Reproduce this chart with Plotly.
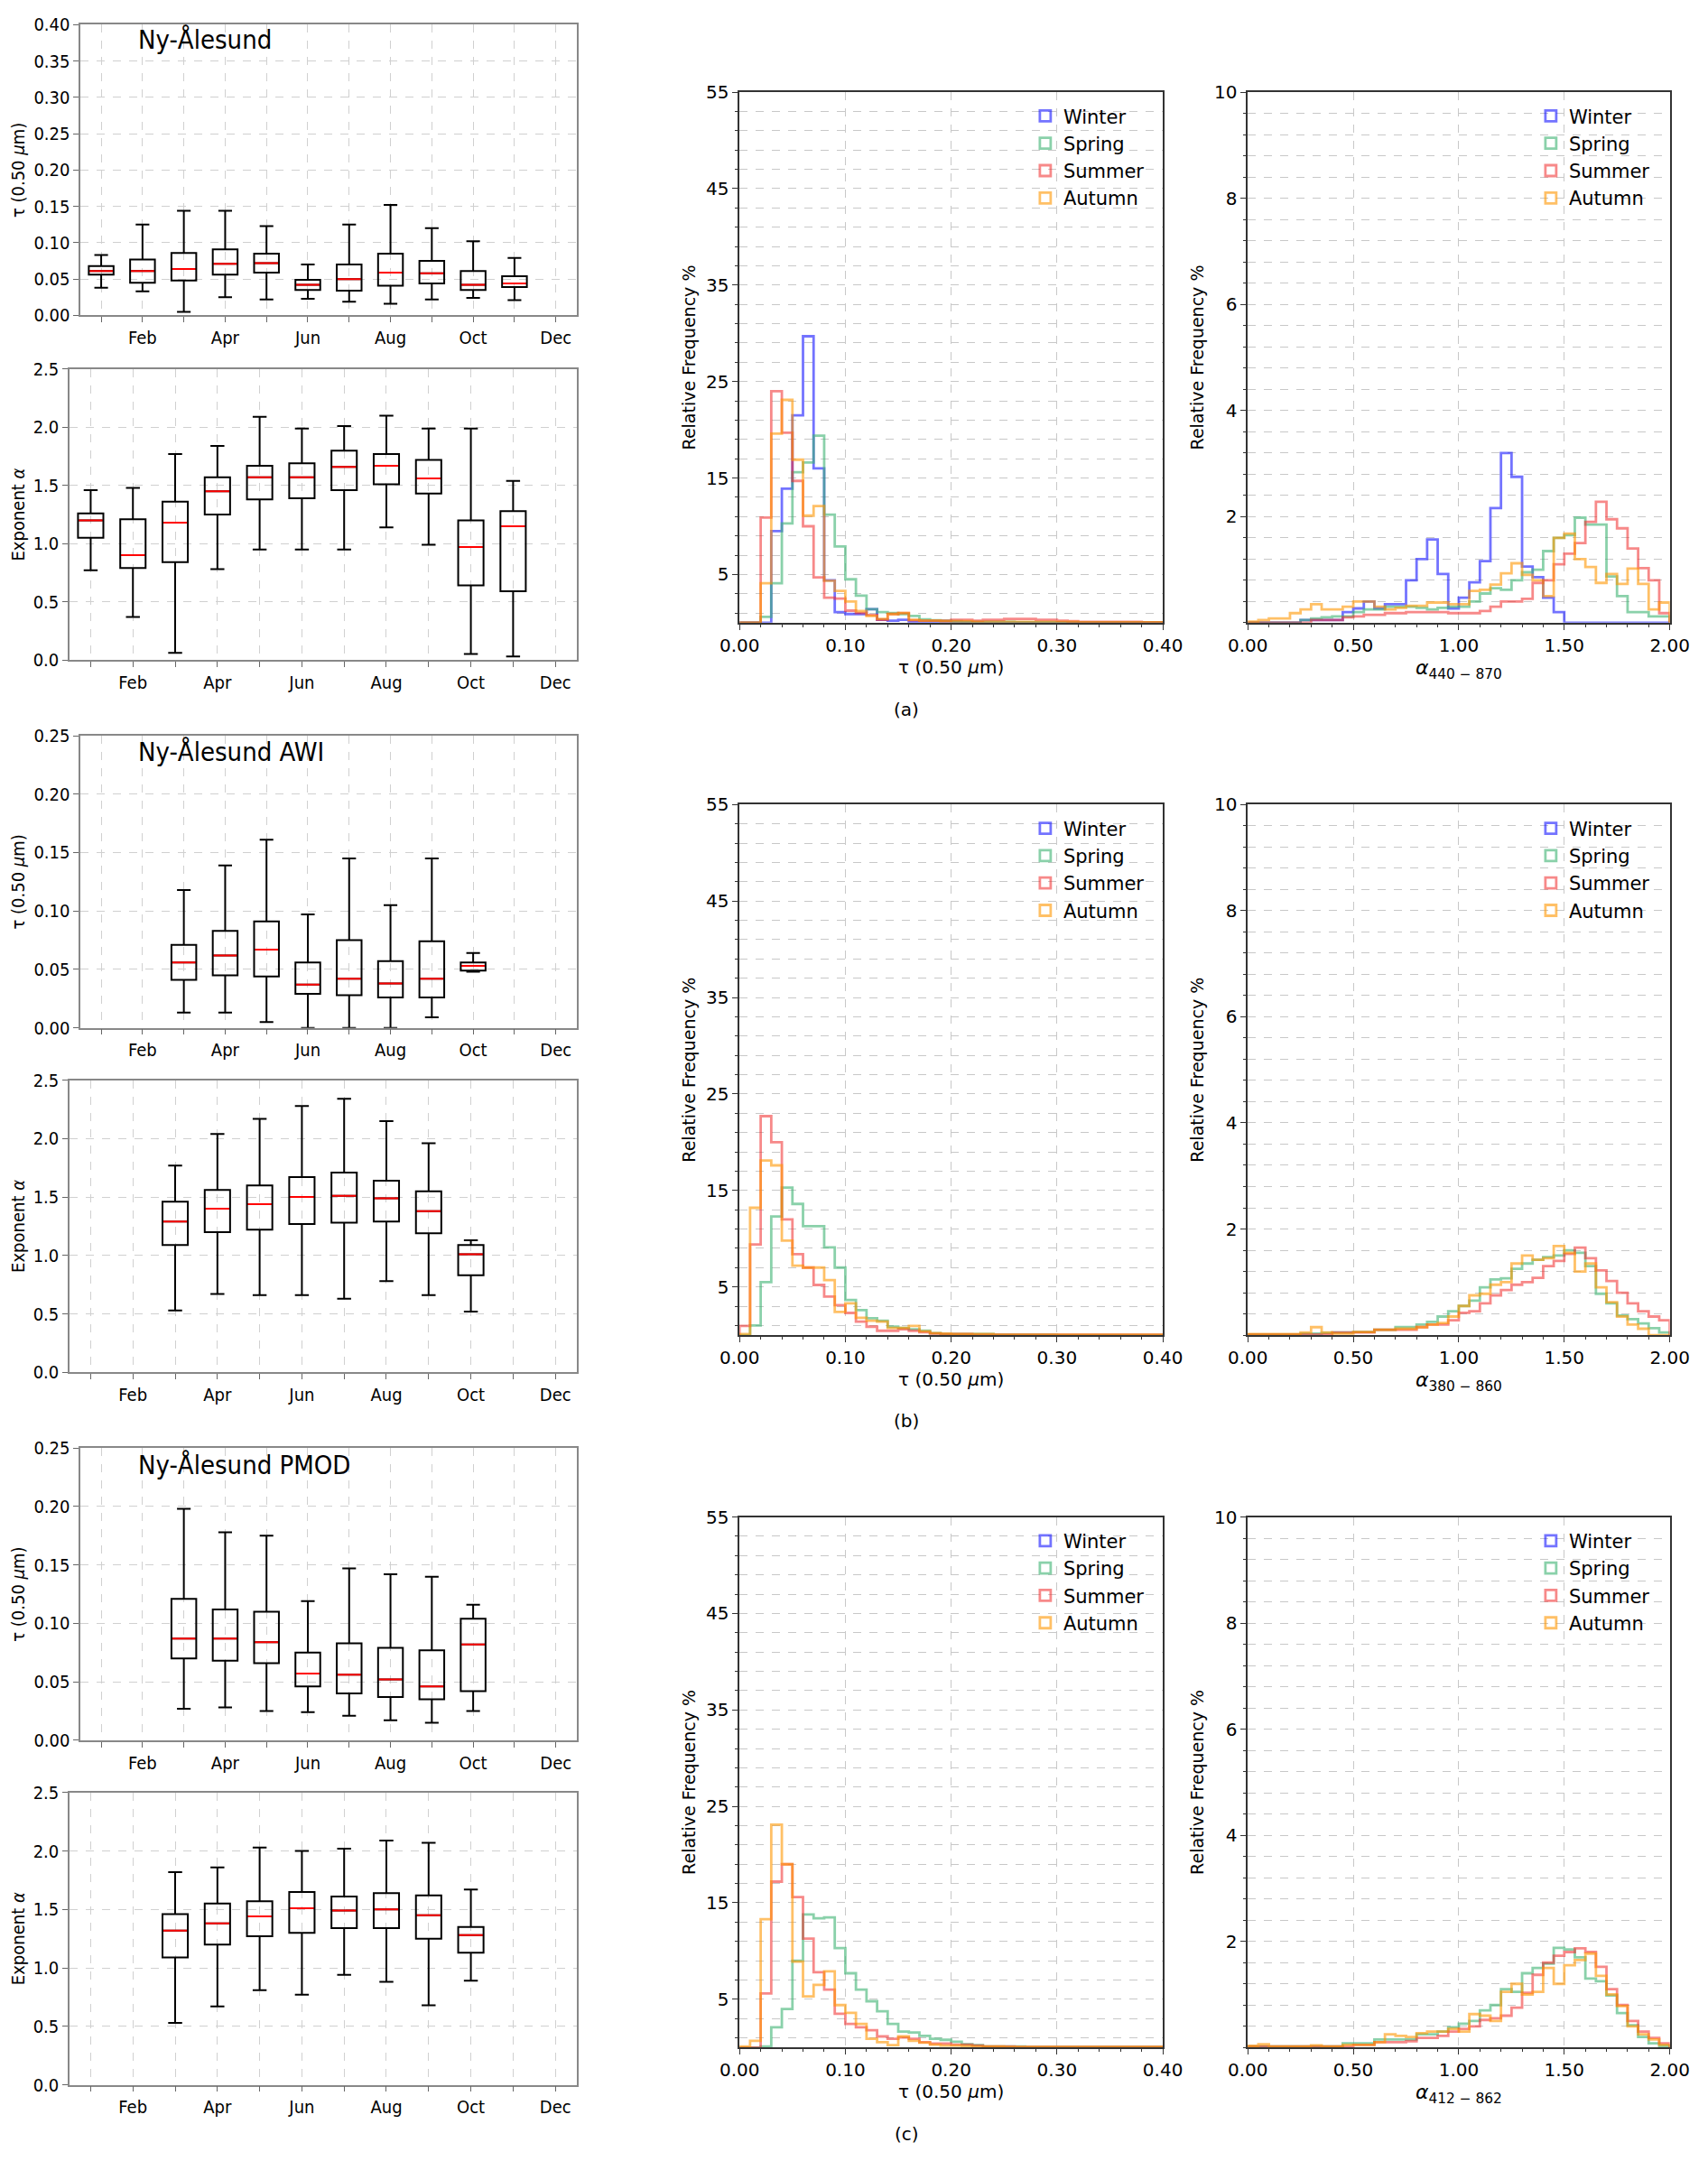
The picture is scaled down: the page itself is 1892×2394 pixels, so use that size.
import numpy as np
import plotly.graph_objects as go

MONTHS = ["Jan", "Feb", "Mar", "Apr", "May", "Jun", "Jul", "Aug", "Sep", "Oct", "Nov", "Dec"]
SEASONS = ["Winter", "Spring", "Summer", "Autumn"]

# ---- monthly box plot statistics ----
# Ny-Alesund, Jan..Nov
nya_months = [1, 2, 3, 4, 5, 6, 7, 8, 9, 10, 11]
nya_tau_q1 = [0.056, 0.045, 0.048, 0.056, 0.059, 0.035, 0.034, 0.041, 0.044, 0.035, 0.039]
nya_tau_med = [0.061, 0.061, 0.064, 0.071, 0.072, 0.042, 0.050, 0.059, 0.058, 0.042, 0.044]
nya_tau_q3 = [0.068, 0.077, 0.086, 0.091, 0.085, 0.049, 0.070, 0.085, 0.075, 0.061, 0.054]
nya_tau_lo = [0.038, 0.033, 0.005, 0.025, 0.022, 0.023, 0.019, 0.016, 0.022, 0.024, 0.021]
nya_tau_hi = [0.083, 0.125, 0.144, 0.144, 0.123, 0.070, 0.125, 0.152, 0.120, 0.102, 0.079]

nya_alp_q1 = [1.05, 0.79, 0.84, 1.25, 1.38, 1.39, 1.46, 1.51, 1.43, 0.64, 0.59]
nya_alp_med = [1.20, 0.90, 1.18, 1.45, 1.57, 1.57, 1.66, 1.67, 1.56, 0.97, 1.15]
nya_alp_q3 = [1.26, 1.21, 1.36, 1.57, 1.67, 1.69, 1.80, 1.77, 1.72, 1.20, 1.28]
nya_alp_lo = [0.77, 0.37, 0.06, 0.78, 0.95, 0.95, 0.95, 1.14, 0.99, 0.05, 0.03]
nya_alp_hi = [1.46, 1.48, 1.77, 1.84, 2.09, 1.99, 2.01, 2.10, 1.99, 1.99, 1.54]

# AWI, Mar..Oct
awi_months = [3, 4, 5, 6, 7, 8, 9, 10]
awi_tau_q1 = [0.041, 0.045, 0.044, 0.029, 0.028, 0.026, 0.026, 0.049]
awi_tau_med = [0.056, 0.062, 0.067, 0.037, 0.042, 0.038, 0.042, 0.053]
awi_tau_q3 = [0.071, 0.083, 0.091, 0.056, 0.075, 0.057, 0.074, 0.056]
awi_tau_lo = [0.013, 0.013, 0.005, 0.000, 0.000, 0.000, 0.009, 0.048]
awi_tau_hi = [0.118, 0.139, 0.161, 0.097, 0.145, 0.105, 0.145, 0.064]

awi_alp_q1 = [1.09, 1.20, 1.22, 1.27, 1.28, 1.29, 1.19, 0.83]
awi_alp_med = [1.29, 1.40, 1.44, 1.50, 1.51, 1.49, 1.38, 1.01]
awi_alp_q3 = [1.46, 1.56, 1.60, 1.67, 1.71, 1.64, 1.55, 1.09]
awi_alp_lo = [0.53, 0.67, 0.66, 0.66, 0.63, 0.78, 0.66, 0.52]
awi_alp_hi = [1.77, 2.04, 2.17, 2.28, 2.34, 2.15, 1.96, 1.13]

# PMOD, Mar..Oct
pmod_months = [3, 4, 5, 6, 7, 8, 9, 10]
pmod_tau_q1 = [0.070, 0.068, 0.066, 0.046, 0.040, 0.037, 0.035, 0.042]
pmod_tau_med = [0.087, 0.087, 0.084, 0.057, 0.056, 0.052, 0.046, 0.082]
pmod_tau_q3 = [0.121, 0.112, 0.110, 0.075, 0.083, 0.079, 0.077, 0.104]
pmod_tau_lo = [0.027, 0.028, 0.025, 0.024, 0.021, 0.017, 0.015, 0.025]
pmod_tau_hi = [0.198, 0.178, 0.175, 0.119, 0.147, 0.142, 0.140, 0.116]

pmod_alp_q1 = [1.09, 1.20, 1.27, 1.30, 1.34, 1.34, 1.25, 1.13]
pmod_alp_med = [1.32, 1.38, 1.44, 1.51, 1.49, 1.50, 1.45, 1.28]
pmod_alp_q3 = [1.46, 1.55, 1.57, 1.65, 1.61, 1.64, 1.62, 1.35]
pmod_alp_lo = [0.53, 0.67, 0.81, 0.77, 0.94, 0.88, 0.68, 0.89]
pmod_alp_hi = [1.82, 1.86, 2.03, 2.00, 2.02, 2.09, 2.07, 1.67]

# ---- seasonal histograms, relative frequency % ----
tau_bins = np.linspace(0.0, 0.40, 41)    # 40 bins of 0.01
alpha_bins = np.linspace(0.0, 2.0, 41)   # 40 bins of 0.05

win_tau_a = [0, 0, 0, 9.5, 13.9, 21.5, 29.7, 16.0, 4.4, 1.1, 0.9, 0.9, 1.4, 0.3, 0.2, 0.3, 0.1, 0.1, 0.1, 0.1,
             0.05, 0.05, 0, 0, 0, 0, 0, 0, 0, 0, 0, 0, 0, 0, 0, 0, 0, 0, 0, 0]
spr_tau_a = [0, 0, 0.6, 4.1, 10.3, 15.6, 16.6, 19.4, 11.2, 7.9, 4.5, 2.8, 1.4, 1.1, 1.0, 0.9, 0.7, 0.35, 0.25, 0.2,
             0.15, 0.1, 0.1, 0.1, 0.1, 0.1, 0.05, 0.05, 0.05, 0.05, 0.05, 0.05, 0.05, 0.05, 0.05, 0.05, 0.05, 0.05, 0.05, 0.05]
sum_tau_a = [0, 0, 10.9, 24.0, 19.7, 14.7, 10.0, 4.7, 2.6, 2.5, 1.25, 1.0, 0.8, 0.3, 0.9, 1.0, 0.25, 0.2, 0.2, 0.2,
             0.3, 0.3, 0.2, 0.3, 0.3, 0.4, 0.4, 0.4, 0.3, 0.3, 0.2, 0.15, 0.1, 0.1, 0.1, 0.1, 0.1, 0.1, 0.05, 0.05]
aut_tau_a = [0, 0, 4.1, 19.6, 23.1, 16.9, 11.1, 12.1, 4.35, 3.3, 2.2, 1.2, 0.7, 0.4, 0.9, 1.0, 0.3, 0.2, 0.2, 0.15,
             0.15, 0.15, 0.1, 0.1, 0.1, 0.1, 0.1, 0.1, 0.1, 0.1, 0.1, 0.1, 0.05, 0.05, 0.05, 0.05, 0.05, 0.05, 0.05, 0.05]

win_alp_a = [0, 0, 0, 0, 0, 0.05, 0.05, 0.05, 0.05, 0.2, 0.27, 0.4, 0.27, 0.35, 0.35, 0.8, 1.2, 1.57, 0.92, 0.27,
             0.47, 0.76, 1.16, 2.16, 3.2, 2.75, 1.06, 0.86, 0.47, 0.2, 0, 0, 0, 0, 0, 0, 0, 0, 0, 0]
spr_alp_a = [0, 0, 0, 0, 0, 0.05, 0.08, 0.1, 0.12, 0.12, 0.2, 0.25, 0.25, 0.3, 0.3, 0.3, 0.28, 0.25, 0.28, 0.3,
             0.3, 0.4, 0.55, 0.65, 0.62, 0.8, 0.95, 1.0, 1.35, 1.6, 1.65, 1.98, 1.85, 1.85, 0.87, 0.5, 0.2, 0.2, 0.12, 0.12]
sum_alp_a = [0, 0, 0, 0, 0, 0, 0.05, 0.05, 0.05, 0.1, 0.12, 0.15, 0.15, 0.18, 0.18, 0.2, 0.2, 0.2, 0.2, 0.18,
             0.18, 0.18, 0.22, 0.3, 0.4, 0.4, 0.45, 0.75, 0.8, 1.1, 1.3, 1.5, 1.9, 2.28, 1.95, 1.78, 1.4, 1.03, 0.8, 0.18]
aut_alp_a = [0.02, 0.05, 0.08, 0.08, 0.18, 0.25, 0.35, 0.25, 0.25, 0.3, 0.4, 0.4, 0.3, 0.25, 0.28, 0.32, 0.32, 0.38, 0.38, 0.35,
             0.35, 0.6, 0.62, 0.72, 0.93, 1.12, 0.9, 0.8, 0.5, 1.6, 1.68, 1.2, 1.05, 0.75, 0.92, 0.73, 1.02, 0.73, 0.25, 0.38]

spr_tau_b = [0, 1.0, 5.5, 12.3, 15.3, 13.6, 11.3, 11.3, 9.1, 7.0, 3.65, 2.6, 1.75, 1.5, 0.87, 0.75, 0.6, 0.45, 0.2, 0.1,
             0.1, 0.1, 0.1, 0.1, 0.05, 0.05, 0.05, 0.05, 0.05, 0.05, 0, 0, 0, 0, 0, 0, 0, 0, 0, 0]
sum_tau_b = [0.95, 9.4, 22.7, 20.0, 12.0, 8.4, 7.0, 5.2, 4.0, 3.1, 2.3, 1.4, 0.87, 0.45, 0.45, 0.6, 0.45, 0.3, 0.15, 0.1,
             0.1, 0.1, 0.05, 0.05, 0.05, 0.05, 0.05, 0.05, 0.05, 0.05, 0.05, 0.05, 0.05, 0.05, 0.05, 0.05, 0.05, 0.05, 0.05, 0.05]
aut_tau_b = [0.1, 13.2, 18.1, 17.6, 9.8, 7.2, 7.0, 7.0, 5.7, 2.4, 3.3, 1.8, 1.5, 1.4, 0.75, 0.75, 0.95, 0.4, 0.2, 0.15,
             0.1, 0.1, 0.1, 0.1, 0.05, 0.05, 0.05, 0.05, 0.05, 0.05, 0.05, 0.05, 0.05, 0.05, 0.05, 0.05, 0.05, 0.05, 0.05, 0.05]

spr_alp_b = [0.01, 0.01, 0.01, 0.01, 0.01, 0.03, 0.03, 0.04, 0.05, 0.05, 0.06, 0.06, 0.1, 0.1, 0.15, 0.15, 0.2, 0.25, 0.35, 0.45,
             0.55, 0.65, 0.9, 1.05, 1.07, 1.25, 1.35, 1.42, 1.47, 1.5, 1.6, 1.55, 1.3, 0.78, 0.6, 0.37, 0.3, 0.22, 0.13, 0.05]
sum_alp_b = [0.01, 0.01, 0.01, 0.01, 0.01, 0.01, 0.01, 0.01, 0.05, 0.05, 0.05, 0.05, 0.1, 0.1, 0.1, 0.1, 0.15, 0.2, 0.2, 0.28,
             0.42, 0.45, 0.6, 0.75, 0.85, 0.95, 1.0, 1.08, 1.3, 1.4, 1.53, 1.65, 1.45, 1.22, 1.02, 0.8, 0.6, 0.45, 0.35, 0.28]
aut_alp_b = [0.02, 0.02, 0.02, 0.02, 0.02, 0.05, 0.15, 0.05, 0.03, 0.03, 0.06, 0.06, 0.1, 0.1, 0.12, 0.12, 0.15, 0.2, 0.23, 0.35,
             0.55, 0.75, 0.78, 0.95, 1.0, 1.35, 1.5, 1.42, 1.45, 1.68, 1.55, 1.2, 1.35, 0.9, 0.62, 0.35, 0.2, 0.12, 0, 0]

spr_tau_c = [0, 0, 0.1, 2.1, 4.0, 9.0, 13.8, 13.4, 13.5, 10.3, 7.7, 6.0, 4.8, 3.75, 2.45, 1.65, 1.55, 1.2, 0.9, 0.8,
             0.6, 0.35, 0.25, 0.1, 0.1, 0.1, 0.1, 0.05, 0.05, 0.05, 0.05, 0.05, 0.05, 0.05, 0.05, 0.05, 0.05, 0.05, 0.05, 0.05]
sum_tau_c = [0, 0, 5.6, 17.2, 19.0, 15.6, 11.3, 7.8, 6.0, 3.5, 2.45, 2.1, 1.8, 1.15, 0.9, 1.05, 0.9, 0.55, 0.4, 0.4,
             0.3, 0.3, 0.2, 0.1, 0.1, 0.1, 0.05, 0.05, 0.05, 0.05, 0.05, 0.05, 0.05, 0.05, 0.05, 0.05, 0.05, 0.05, 0.05, 0.05]
aut_tau_c = [0.1, 0.7, 13.3, 23.1, 19.0, 8.9, 5.3, 6.5, 7.9, 4.4, 3.6, 2.45, 0.9, 0.55, 0.25, 1.15, 0.7, 0.5, 0.3, 0.2,
             0.2, 0.15, 0.1, 0.1, 0.1, 0.05, 0.05, 0.05, 0.05, 0.05, 0.05, 0.05, 0.05, 0.05, 0.05, 0.05, 0.05, 0.05, 0.05, 0.05]

spr_alp_c = [0.02, 0.02, 0.02, 0.02, 0.02, 0.02, 0.02, 0.02, 0.02, 0.08, 0.08, 0.08, 0.15, 0.15, 0.15, 0.15, 0.25, 0.25, 0.3, 0.38,
             0.45, 0.5, 0.7, 0.8, 1.1, 1.05, 1.4, 1.5, 1.58, 1.88, 1.85, 1.7, 1.3, 1.25, 0.98, 0.65, 0.42, 0.2, 0.08, 0.03]
sum_alp_c = [0.02, 0.02, 0.02, 0.02, 0.02, 0.02, 0.02, 0.02, 0.02, 0.02, 0.05, 0.05, 0.1, 0.1, 0.1, 0.12, 0.18, 0.18, 0.22, 0.3,
             0.35, 0.4, 0.52, 0.55, 0.6, 0.75, 1.03, 1.37, 1.6, 1.73, 1.8, 1.87, 1.8, 1.52, 1.1, 0.8, 0.5, 0.3, 0.18, 0.08]
aut_alp_c = [0.03, 0.06, 0.02, 0.02, 0.02, 0.02, 0.04, 0.02, 0.02, 0.05, 0.05, 0.05, 0.1, 0.25, 0.22, 0.2, 0.27, 0.3, 0.3, 0.35,
             0.3, 0.63, 0.6, 0.5, 1.05, 1.2, 1.0, 1.05, 1.5, 1.2, 1.55, 1.65, 1.77, 1.35, 1.0, 0.78, 0.4, 0.25, 0.15, 0.05]

season_colors = ["rgba(0,0,255,0.55)", "rgba(60,179,113,0.6)", "rgba(240,40,40,0.55)", "rgba(255,150,0,0.6)"]

W, H = 1892, 2394
S = W / 1240.0   # layout measured on a 1240 px wide copy
FONT = "DejaVu Sans"
CFONT = "DejaVu Sans Condensed, DejaVu Sans"


# small linear correction found by comparing a first render with the reference
def cx(x):
    return (x - 13.0) / 0.982


def cy(y):
    return (y - 12.2) / 0.9895


def xd(a, b):
    return [cx(a) / 1240.0, cx(b) / 1240.0]


def yd(top, bot):
    return [1 - cy(bot) * S / H, 1 - cy(top) * S / H]


def px(x):
    return cx(x) / 1240.0


def py(y):
    return 1 - cy(y) * S / H


def ax_names(n):
    return ("x", "y", "xaxis", "yaxis") if n == 1 else (f"x{n}", f"y{n}", f"xaxis{n}", f"yaxis{n}")


fig = go.Figure()
layout = {}
annotations = []


def box_panel(n, dom_x, dom_y, months, q1, med, q3, lo, hi, ymax, ydt, yfmt, ytitle):
    xa, ya, xk, yk = ax_names(n)
    fig.add_trace(go.Box(x=months, q1=q1, median=med, q3=q3, lowerfence=lo, upperfence=hi,
                         width=0.6, whiskerwidth=0.55, fillcolor="rgba(0,0,0,0)",
                         line=dict(color="black", width=2), xaxis=xa, yaxis=ya,
                         showlegend=False, hoverinfo="skip"))
    # red median line drawn as a flat box
    fig.add_trace(go.Box(x=months, q1=med, median=med, q3=med, lowerfence=med, upperfence=med,
                         width=0.56, whiskerwidth=0, fillcolor="rgba(0,0,0,0)",
                         line=dict(color="red", width=2), xaxis=xa, yaxis=ya,
                         showlegend=False, hoverinfo="skip"))
    grid = dict(showgrid=True, gridcolor="#d0d0d0", griddash="dash", gridwidth=1,
                showline=True, mirror=True, linecolor="#888888", linewidth=1.5,
                ticks="outside", ticklen=6, tickcolor="#666666", zeroline=False,
                tickfont=dict(family=CFONT, size=20, color="black"))
    layout[xk] = dict(domain=xd(*dom_x), anchor=ya, range=[0.5, 12.5],
                      tickvals=[2, 4, 6, 8, 10, 12], ticktext=MONTHS[1::2],
                      minor=dict(dtick=1, tick0=1, ticks="outside", ticklen=6, tickcolor="#666666",
                                 showgrid=True, gridcolor="#d0d0d0", griddash="dash", gridwidth=1),
                      **grid)
    layout[yk] = dict(domain=yd(*dom_y), anchor=xa, range=[0, ymax], dtick=ydt, tick0=0,
                      tickformat=yfmt,
                      title=dict(text=ytitle, font=dict(family=CFONT, size=20, color="black"), standoff=10),
                      **grid)


def hist_panel(n, dom_x, dom_y, bins, series, xmax, xdt, xminor, ymax, ytickvals, yminor,
               xtitle, xtitle_size, legend_id, legend_xy):
    xa, ya, xk, yk = ax_names(n)
    for name, vals, col in zip(SEASONS, series, season_colors):
        if vals is not None:
            xs = [bins[0]] + list(bins[:-1]) + [bins[-1]]
            ys = [0] + list(vals) + [0]
            fig.add_trace(go.Scatter(x=xs, y=ys, mode="lines", line=dict(color=col, width=2.8, shape="hv"),
                                     xaxis=xa, yaxis=ya, showlegend=False, hoverinfo="skip"))
    for name, col in zip(SEASONS, season_colors):
        fig.add_trace(go.Bar(x=[None], y=[None], name=name, legend=legend_id, xaxis=xa, yaxis=ya,
                             marker=dict(color="rgba(0,0,0,0)", line=dict(color=col, width=2.8))))
    common = dict(showline=True, mirror=True, linecolor="#333333", linewidth=1.5, zeroline=False,
                  ticks="outside", ticklen=6, tickcolor="#333333",
                  showgrid=True, gridcolor="#c8c8c8", griddash="dash", gridwidth=1,
                  tickfont=dict(family=FONT, size=20, color="black"))
    layout[xk] = dict(domain=xd(*dom_x), anchor=ya, type="linear", range=[0, xmax], dtick=xdt, tick0=0,
                      tickformat=".2f",
                      minor=dict(dtick=xminor, tick0=0, ticks="outside", ticklen=3, tickcolor="#333333",
                                 showgrid=False),
                      title=dict(text=xtitle, font=dict(family=FONT, size=xtitle_size, color="black"), standoff=6),
                      **common)
    layout[yk] = dict(domain=yd(*dom_y), anchor=xa, type="linear", range=[0, ymax], tickvals=ytickvals,
                      minor=dict(dtick=yminor[0], tick0=yminor[1], ticks="outside", ticklen=3,
                                 tickcolor="#333333", showgrid=True, gridcolor="#c8c8c8",
                                 griddash="dash", gridwidth=1),
                      title=dict(text="Relative Frequency %", font=dict(family=FONT, size=19, color="black"),
                                 standoff=6),
                      **common)
    layout[legend_id] = dict(x=px(legend_xy[0]), y=py(legend_xy[1]), xanchor="left", yanchor="top",
                             bgcolor="rgba(255,255,255,0)", font=dict(family=FONT, size=21, color="black"),
                             tracegroupgap=0, itemclick=False)


TAU_T = "τ (0.50 <i>μ</i>m)"
ALP_T = "Exponent <i>α</i>"

# row (a)
box_panel(1, (52, 414), (17, 228), nya_months, nya_tau_q1, nya_tau_med, nya_tau_q3, nya_tau_lo, nya_tau_hi,
          0.40, 0.05, ".2f", TAU_T)
box_panel(2, (44, 414), (267, 478), nya_months, nya_alp_q1, nya_alp_med, nya_alp_q3, nya_alp_lo, nya_alp_hi,
          2.5, 0.5, ".1f", ALP_T)
hist_panel(3, (533, 842), (66, 451), tau_bins, [win_tau_a, spr_tau_a, sum_tau_a, aut_tau_a],
           0.40, 0.1, 0.02, 55, [5, 15, 25, 35, 45, 55], (2, 1), TAU_T, 20, "legend", (743, 70))
hist_panel(4, (904, 1212), (66, 451), alpha_bins, [win_alp_a, spr_alp_a, sum_alp_a, aut_alp_a],
           2.0, 0.5, 0.1, 10, [2, 4, 6, 8, 10], (0.4, 0), "<i>α</i><sub>440 − 870</sub>", 22, "legend2", (1112, 70))

# row (b)
box_panel(5, (52, 414), (533, 745), awi_months, awi_tau_q1, awi_tau_med, awi_tau_q3, awi_tau_lo, awi_tau_hi,
          0.25, 0.05, ".2f", TAU_T)
box_panel(6, (44, 414), (783, 995), awi_months, awi_alp_q1, awi_alp_med, awi_alp_q3, awi_alp_lo, awi_alp_hi,
          2.5, 0.5, ".1f", ALP_T)
hist_panel(7, (533, 842), (583, 968), tau_bins, [None, spr_tau_b, sum_tau_b, aut_tau_b],
           0.40, 0.1, 0.02, 55, [5, 15, 25, 35, 45, 55], (2, 1), TAU_T, 20, "legend3", (743, 587))
hist_panel(8, (904, 1212), (583, 968), alpha_bins, [None, spr_alp_b, sum_alp_b, aut_alp_b],
           2.0, 0.5, 0.1, 10, [2, 4, 6, 8, 10], (0.4, 0), "<i>α</i><sub>380 − 860</sub>", 22, "legend4", (1112, 587))

# row (c)
box_panel(9, (52, 414), (1050, 1262), pmod_months, pmod_tau_q1, pmod_tau_med, pmod_tau_q3, pmod_tau_lo, pmod_tau_hi,
          0.25, 0.05, ".2f", TAU_T)
box_panel(10, (44, 414), (1300, 1512), pmod_months, pmod_alp_q1, pmod_alp_med, pmod_alp_q3, pmod_alp_lo, pmod_alp_hi,
          2.5, 0.5, ".1f", ALP_T)
hist_panel(11, (533, 842), (1100, 1485), tau_bins, [None, spr_tau_c, sum_tau_c, aut_tau_c],
           0.40, 0.1, 0.02, 55, [5, 15, 25, 35, 45, 55], (2, 1), TAU_T, 20, "legend5", (743, 1104))
hist_panel(12, (904, 1212), (1100, 1485), alpha_bins, [None, spr_alp_c, sum_alp_c, aut_alp_c],
           2.0, 0.5, 0.1, 10, [2, 4, 6, 8, 10], (0.4, 0), "<i>α</i><sub>412 − 862</sub>", 22, "legend6", (1112, 1104))

# station names and panel captions
for text, top in [("Ny-Ålesund", 28), ("Ny-Ålesund AWI", 545), ("Ny-Ålesund PMOD", 1062)]:
    annotations.append(dict(text=text, x=px(93), y=py(top), xref="paper", yref="paper",
                            xanchor="left", yanchor="middle", showarrow=False,
                            font=dict(family=CFONT, size=29, color="black")))
for text, top in [("(a)", 514), ("(b)", 1030), ("(c)", 1548)]:
    annotations.append(dict(text=text, x=px(655), y=py(top), xref="paper", yref="paper",
                            xanchor="center", yanchor="middle", showarrow=False,
                            font=dict(family=FONT, size=20, color="black")))

fig.update_layout(width=W, height=H, margin=dict(l=0, r=0, t=0, b=0),
                  paper_bgcolor="white", plot_bgcolor="white", boxmode="overlay",
                  annotations=annotations, **layout)

fig.write_html("out.html")
